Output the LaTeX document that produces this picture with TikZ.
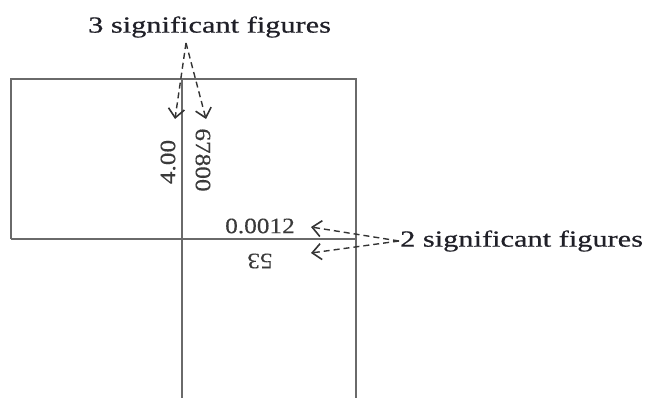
\documentclass[tikz,border=0pt]{standalone}
\usepackage{fontspec}
\setmainfont{Liberation Serif}
\newfontfamily\notefont[FakeStretch=1.32,FakeBold=0.6]{Liberation Serif}
\newfontfamily\numfont[FakeStretch=1.15,FakeBold=0.3]{Liberation Serif}
\usetikzlibrary{arrows.meta}
\definecolor{linegray}{HTML}{6A6A6A}
\definecolor{labgray}{HTML}{3A3A3A}
\definecolor{txtdark}{HTML}{202028}
\tikzset{
  frame/.style={draw=linegray, line width=2.2pt},
  note/.style={inner sep=0pt, text=txtdark, font=\notefont\fontsize{23}{27}\selectfont},
  numlab/.style={inner sep=0pt, text=labgray, font=\numfont\fontsize{22}{26}\selectfont},
  pointer/.style={draw=black!80, line width=1.4pt, dash pattern=on 6pt off 4pt,
    -{Straight Barb[length=9pt,width=16pt,line width=1.6pt]}}
}
\begin{document}
\begin{tikzpicture}[x=1pt,y=-1pt]
\path[use as bounding box] (0,0) rectangle (647,398);
% frame lines
\coordinate (tl) at (11,79);
\coordinate (tm) at (182,79);
\coordinate (tr) at (356,79);
\coordinate (ml) at (11,239);
\coordinate (mm) at (182,239);
\coordinate (mr) at (356,239);
\coordinate (bm) at (182,398);
\coordinate (br) at (356,398);
\draw[frame] (ml) -- (tl) -- (tr) -- (br);
\draw[frame] (ml) -- (mr);
\draw[frame] (tm) -- (bm);
% labels
\node[numlab, rotate=90] (l400) at (168,162) {4.00};
\node[numlab, rotate=-90] (l678) at (203,160) {67800};
\node[numlab] (l0012) at (260,226) {0.0012};
\node[numlab, rotate=180] (l53) at (260,261) {53};
% notes
\node[note, anchor=west] (three) at (88,27) {3 significant figures};
\node[note, anchor=west] (two) at (400,241) {2 significant figures};
% pointers
\coordinate (tsrc) at (186,43);
\coordinate (ta) at (175,119);
\coordinate (tb) at (206,119);
\draw[pointer] (tsrc) -- (ta);
\draw[pointer] (tsrc) -- (tb);
\coordinate (rsrc) at (399,241);
\coordinate (ra) at (311,227);
\coordinate (rb) at (311,253);
\draw[pointer] (rsrc) -- (ra);
\draw[pointer] (rsrc) -- (rb);
\end{tikzpicture}
\end{document}
